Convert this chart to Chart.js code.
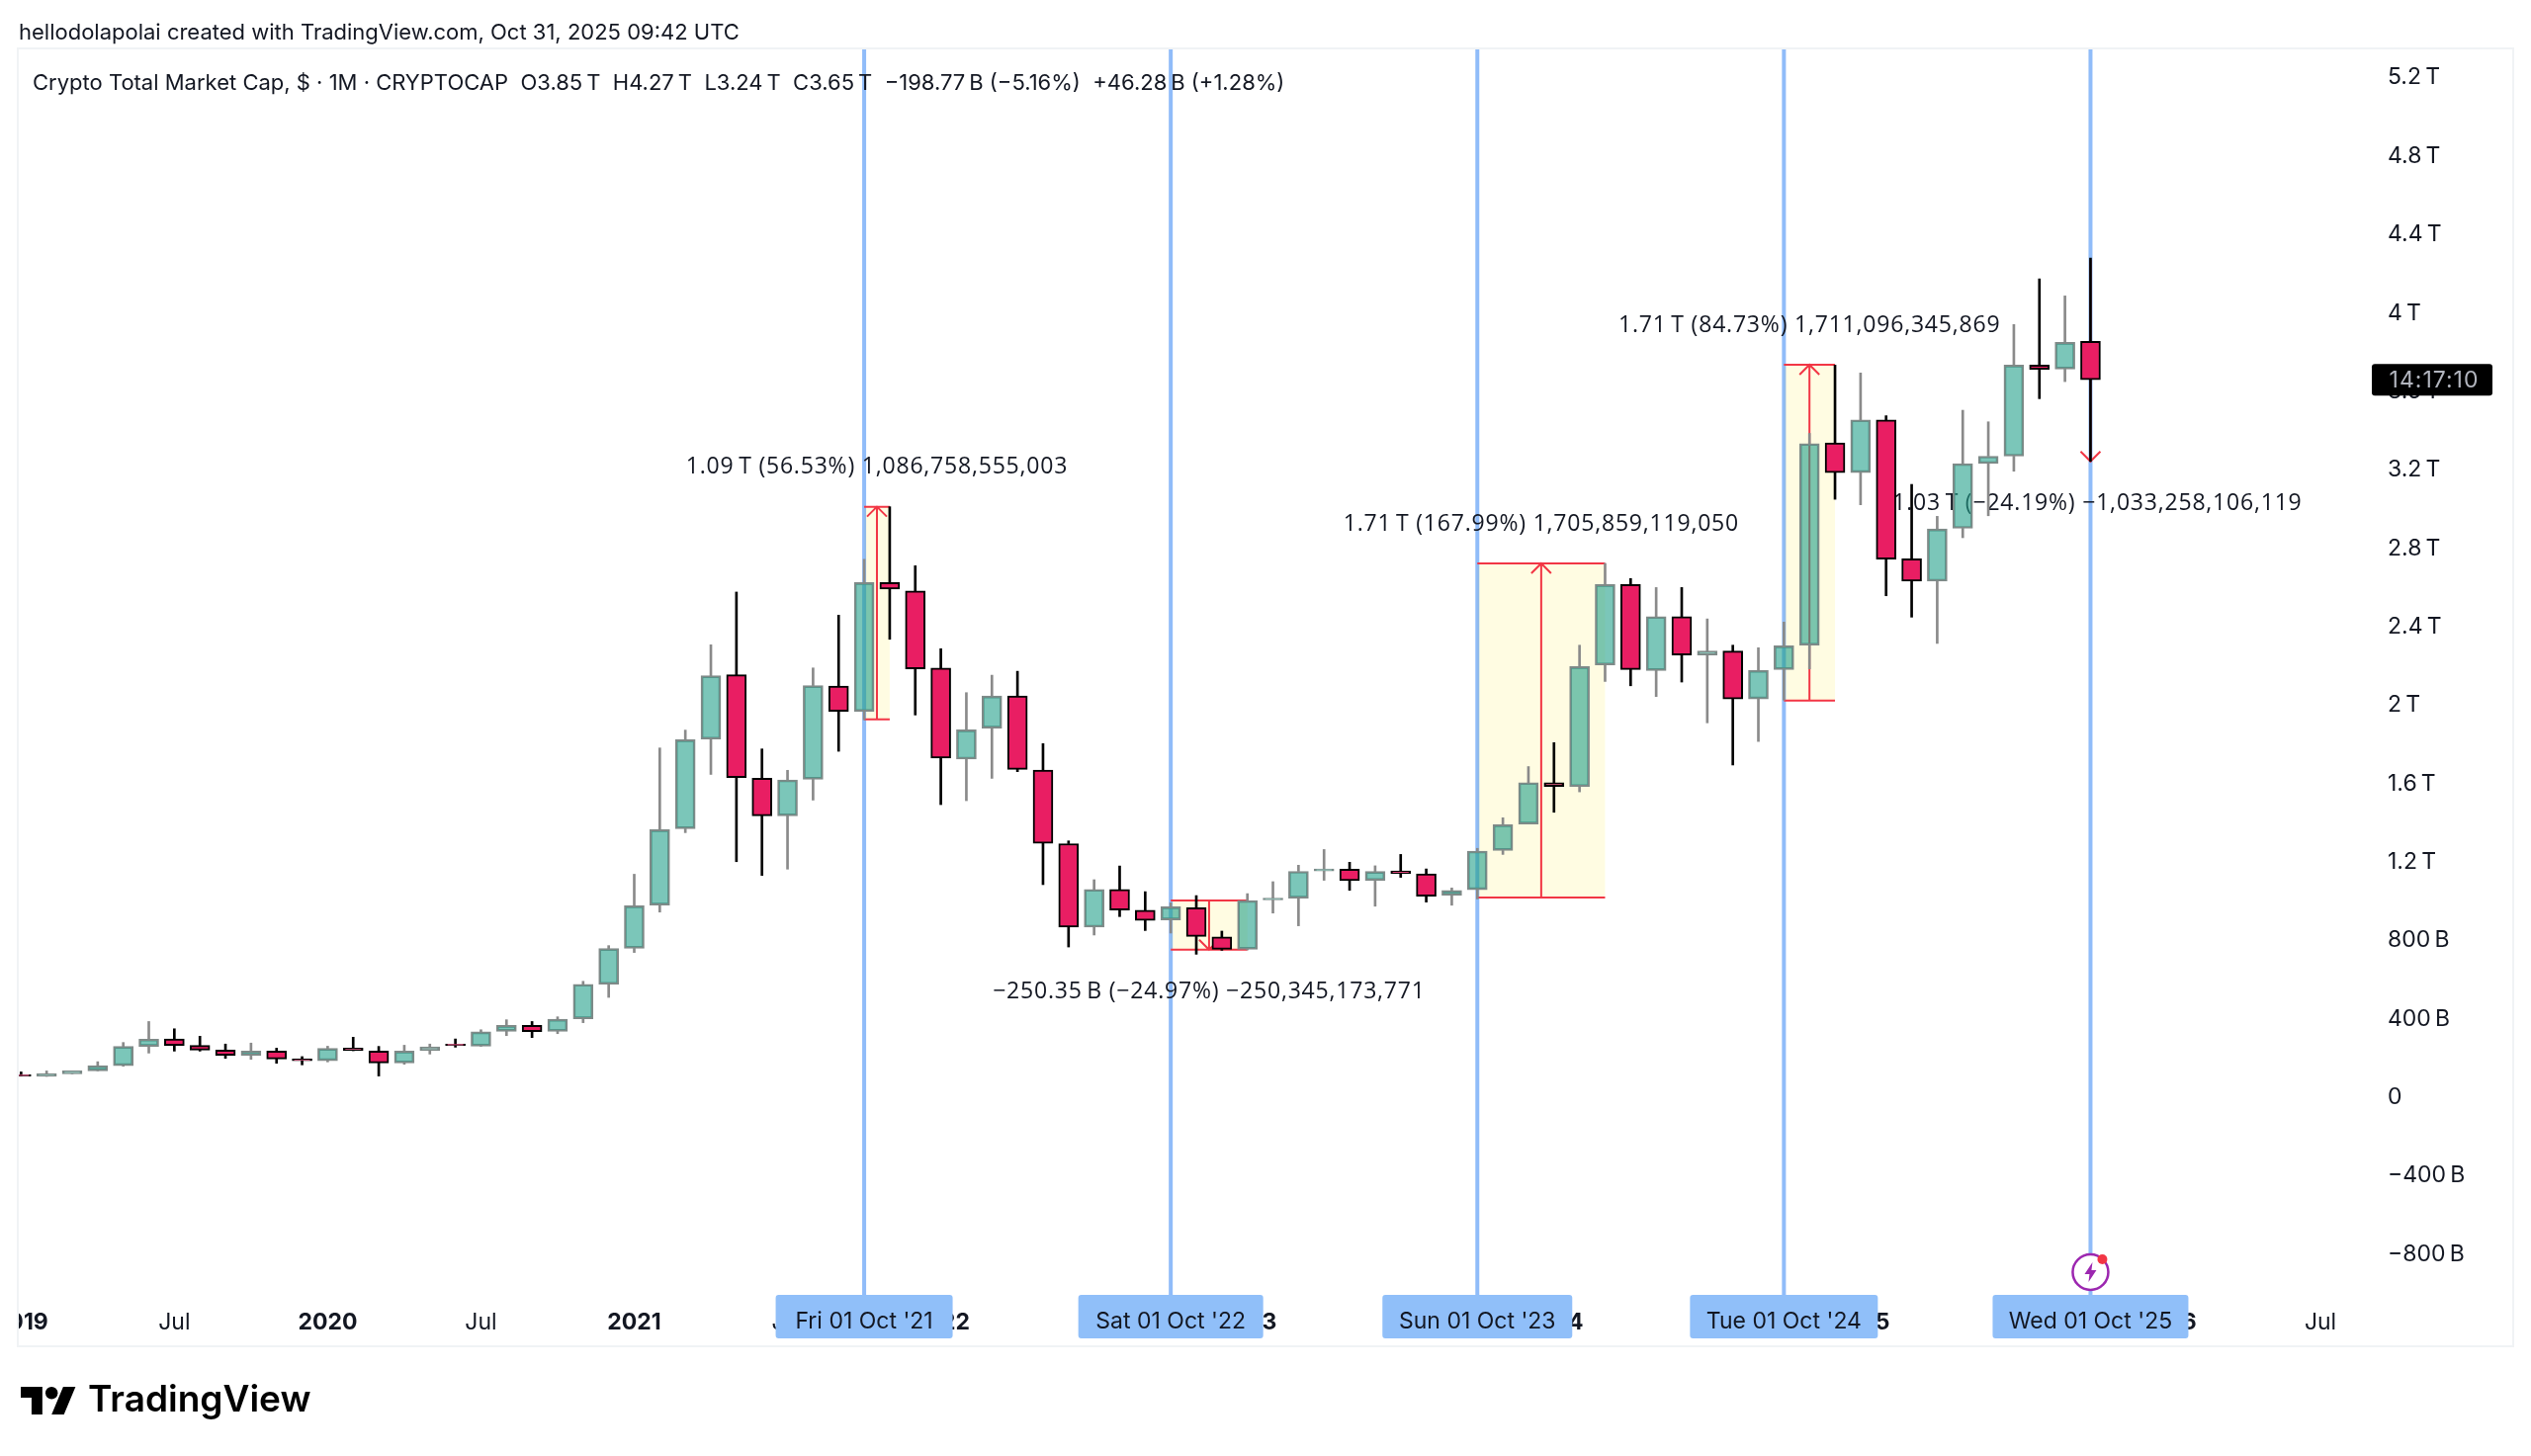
<!DOCTYPE html>
<html>
<head>
<meta charset="utf-8">
<title>Crypto Total Market Cap</title>
<script src="https://cdn.jsdelivr.net/npm/chart.js@4/dist/chart.umd.min.js"></script>
<style>
html, body { margin: 0; padding: 0; background: #fff; }
canvas { display: block; }
</style>
</head>
<body>
<canvas id="myChart" width="2560" height="1473"></canvas>
<script>
// monthly candles, Jan 2019 to Oct 2025, in trillions
const opens = [.117,.107,.120,.135,.162,.260,.298,.265,.241,.214,.236,.196,.187,.251,.236,.176,.238,.272,.261,.337,.367,.337,.401,.577,
  .760,.981,1.370,1.827,2.155,1.627,1.436,1.622,2.098,1.968,2.625,2.583,2.190,1.725,1.883,2.047,1.669,1.294,.868,1.061,.954,.905,.967,.818,
  .755,1.007,1.016,1.155,1.164,1.106,1.155,1.140,1.031,1.059,1.259,1.394,1.605,1.585,2.205,2.615,2.177,2.452,2.256,2.276,2.032,2.182,
  2.306,3.338,3.186,3.455,2.746,2.632,2.902,3.232,3.270,3.734,3.714,3.855];
const highs = [.130,.135,.135,.182,.280,.387,.350,.312,.272,.277,.251,.208,.261,.307,.260,.266,.272,.298,.345,.396,.387,.411,.592,.774,
  1.138,1.782,1.873,2.308,2.577,1.777,1.668,2.190,2.459,2.744,3.012,2.711,2.288,2.064,2.153,2.173,1.804,1.308,1.110,1.180,1.049,.992,1.029,.848,
  1.039,1.100,1.184,1.264,1.199,1.181,1.239,1.165,1.068,1.270,1.426,1.687,1.809,2.306,2.723,2.646,2.600,2.600,2.440,2.306,2.293,2.424,
  3.386,3.734,3.694,3.476,3.126,2.963,3.504,3.445,3.941,4.174,4.087,4.280];
const lows = [.109,.107,.120,.135,.159,.226,.236,.236,.199,.194,.174,.166,.181,.238,.109,.169,.221,.256,.260,.315,.305,.325,.381,.510,
  .739,.945,1.350,1.647,1.202,1.132,1.164,1.516,1.765,1.925,2.336,1.950,1.493,1.513,1.627,1.661,1.085,.767,.828,.922,.851,.838,.730,.750,
  .752,.940,.875,1.107,1.056,.975,1.122,.996,.980,1.012,1.239,1.394,1.454,1.558,2.121,2.099,2.044,2.118,1.910,1.695,1.815,2.026,
  2.185,3.050,3.022,2.558,2.449,2.315,2.854,2.966,3.193,3.563,3.650,3.243];
const closes = [.109,.122,.135,.162,.260,.297,.265,.241,.214,.236,.196,.187,.250,.238,.176,.236,.258,.265,.334,.367,.335,.399,.577,.759,
  .977,1.365,1.824,2.150,1.631,1.436,1.619,2.100,1.968,2.625,2.592,2.185,1.730,1.874,2.047,1.673,1.295,.868,1.061,.955,.903,.972,.821,.755,
  1.004,1.016,1.153,1.165,1.105,1.152,1.142,1.026,1.056,1.256,1.390,1.605,1.585,2.197,2.615,2.182,2.452,2.256,2.276,2.032,2.178,2.303,
  3.334,3.186,3.455,2.745,2.632,2.899,3.232,3.270,3.734,3.712,3.850,3.659];

const priceTicks = [5.2,4.8,4.4,4,3.6,3.2,2.8,2.4,2,1.6,1.2,.8,.4,0,-.4,-.8];
const priceLabels = ['5.2\u2009T','4.8\u2009T','4.4\u2009T','4\u2009T','3.6\u2009T','3.2\u2009T','2.8\u2009T','2.4\u2009T','2\u2009T','1.6\u2009T','1.2\u2009T','800\u2009B','400\u2009B','0','\u2212400\u2009B','\u2212800\u2009B'];
const timeTicks = [0,6,12,18,24,30,36,42,48,54,60,66,72,78,84,90];
const timeLabels = ['2019','Jul','2020','Jul','2021','Jul','2022','Jul','2023','Jul','2024','Jul','2025','Jul','2026','Jul'];

// the five date markers and the price range drawn from each
const markerMonths = [33,45,57,69,81];
const markerDates = ["Fri 01 Oct '21","Sat 01 Oct '22","Sun 01 Oct '23","Tue 01 Oct '24","Wed 01 Oct '25"];
const rangeEnds = [34,48,62,71,81];
const rangeFrom = [1.928,1.004,1.019,2.024,4.27];
const rangeTo = [3.012,.7535,2.723,3.736,3.243];
const rangeTexts = [
  '1.09\u2009T (56.53%) 1,086,758,555,003',
  '\u2212250.35\u2009B (\u221224.97%) \u2212250,345,173,771',
  '1.71\u2009T (167.99%) 1,705,859,119,050',
  '1.71\u2009T (84.73%) 1,711,096,345,869',
  '\u22121.03\u2009T (\u221224.19%) \u22121,033,258,106,119'
];

const FONT = 'Inter, "Liberation Sans", sans-serif';
const TEXT = '#131722';
const BLUE_LINE = 'rgba(33,122,244,0.5)';
const BADGE = '#90bff9';
const RED = '#f23645';

const upFill = 'rgba(35,160,138,0.6)';
const upEdge = '#7f8a88';
const upWick = '#8a8a8a';
const downFill = '#E91E63';
const downEdge = '#000000';
const downWick = '#000000';

const isUp = closes.map((c, i) => c >= opens[i]);
const bodies = opens.map((o, i) => ({ x: i, y: [o, closes[i]] }));
const upperWicks = highs.map((h, i) => ({ x: i, y: [Math.max(opens[i], closes[i]), h] }));
const lowerWicks = lows.map((l, i) => ({ x: i, y: [l, Math.min(opens[i], closes[i])] }));
const wickColors = isUp.map(u => u ? upWick : downWick);

function drawUnderCandles(chart) {
  const { ctx, chartArea, scales } = chart;
  const x = scales.x, y = scales.y;
  ctx.save();

  markerMonths.forEach((m, i) => {
    const left = x.getPixelForValue(m);
    const right = x.getPixelForValue(rangeEnds[i]);
    const yFrom = y.getPixelForValue(rangeFrom[i]);
    const yTo = y.getPixelForValue(rangeTo[i]);
    const top = Math.min(yFrom, yTo), bottom = Math.max(yFrom, yTo);
    const mid = (left + right) / 2;

    ctx.fillStyle = 'rgba(255,235,59,0.15)';
    ctx.fillRect(left, top, right - left, bottom - top);

    ctx.strokeStyle = BLUE_LINE;
    ctx.lineWidth = 4;
    ctx.beginPath();
    ctx.moveTo(left, chartArea.top);
    ctx.lineTo(left, chartArea.bottom);
    ctx.stroke();

    ctx.strokeStyle = RED;
    ctx.lineWidth = 2;
    ctx.beginPath();
    if (right > left) {
      ctx.moveTo(left, top); ctx.lineTo(right, top);
      ctx.moveTo(left, bottom); ctx.lineTo(right, bottom);
    }
    ctx.moveTo(mid, yFrom); ctx.lineTo(mid, yTo);
    const dir = yTo < yFrom ? 1 : -1;
    ctx.moveTo(mid - 10, yTo + dir * 10); ctx.lineTo(mid, yTo); ctx.lineTo(mid + 10, yTo + dir * 10);
    ctx.stroke();

    ctx.fillStyle = TEXT;
    ctx.font = '23px "Open Sans", ' + FONT;
    ctx.letterSpacing = '0.8px';
    ctx.textAlign = 'center';
    ctx.textBaseline = 'middle';
    ctx.fillText(rangeTexts[i], mid, yTo < yFrom ? top - 40 : bottom + 43);
    ctx.letterSpacing = '0px';
  });
  ctx.restore();
}

function drawOnTop(chart) {
  const { ctx, chartArea, scales } = chart;
  const x = scales.x, y = scales.y;
  ctx.save();

  // hides what sticks out left of the pane, like the first year label
  ctx.fillStyle = '#fff';
  ctx.fillRect(0, chartArea.top, chartArea.left, 1362 - chartArea.top);

  ctx.strokeStyle = '#f0f3f5';
  ctx.lineWidth = 2;
  ctx.strokeRect(chartArea.left, chartArea.top, 2542 - chartArea.left, 1362 - chartArea.top);

  ctx.textBaseline = 'middle';
  ctx.textAlign = 'left';
  ctx.fillStyle = TEXT;
  ctx.font = '22px ' + FONT;
  ctx.fillText('hellodolapolai created with TradingView.com, Oct 31, 2025 09:42 UTC', 19, 33);
  ctx.fillText('Crypto Total Market Cap, $ \u00b7 1M \u00b7 CRYPTOCAP  O3.85\u2009T  H4.27\u2009T  L3.24\u2009T  C3.65\u2009T  \u2212198.77\u2009B (\u22125.16%)  +46.28\u2009B (+1.28%)', 33, 84);

  // date badges on the time axis
  ctx.font = '23px ' + FONT;
  ctx.textAlign = 'center';
  markerMonths.forEach((m, i) => {
    const cx = x.getPixelForValue(m);
    const w = [179, 187, 192, 190, 198][i];
    ctx.fillStyle = BADGE;
    ctx.beginPath();
    ctx.roundRect(cx - w / 2, chartArea.bottom, w, 44, 3);
    ctx.fill();
    ctx.fillStyle = TEXT;
    ctx.fillText(markerDates[i], cx, 1337);
  });

  // countdown on the price axis
  const closeY = y.getPixelForValue(closes[closes.length - 1]);
  ctx.fillStyle = '#000';
  ctx.beginPath();
  ctx.roundRect(2399, closeY - 16, 122, 32, 3);
  ctx.fill();
  ctx.fillStyle = '#b2b5be';
  ctx.letterSpacing = '1px';
  ctx.fillText('14:17:10', 2462, closeY + 1);
  ctx.letterSpacing = '0px';

  // bolt icon on the last marker
  const ix = x.getPixelForValue(markerMonths[markerMonths.length - 1]);
  const iy = 1287;
  ctx.fillStyle = '#fff';
  ctx.strokeStyle = '#9c27b0';
  ctx.lineWidth = 2.5;
  ctx.beginPath();
  ctx.arc(ix, iy, 18, 0, Math.PI * 2);
  ctx.fill();
  ctx.stroke();
  ctx.fillStyle = '#9c27b0';
  ctx.beginPath();
  ctx.moveTo(ix + 2, iy - 10); ctx.lineTo(ix - 6, iy + 2); ctx.lineTo(ix - 1, iy + 2);
  ctx.lineTo(ix - 2, iy + 10); ctx.lineTo(ix + 6, iy - 2); ctx.lineTo(ix + 1, iy - 2);
  ctx.closePath();
  ctx.fill();
  ctx.fillStyle = RED;
  ctx.beginPath();
  ctx.arc(ix + 12, iy - 13, 5, 0, Math.PI * 2);
  ctx.fill();

  // TradingView logo
  ctx.save();
  ctx.translate(21, 1396.8);
  ctx.scale(1.56, 1.56);
  ctx.fillStyle = '#000';
  ctx.fill(new Path2D('M14 22H7V11H0V4h14v18zM28 22h-8l7.5-18h8L28 22z'));
  ctx.beginPath();
  ctx.arc(20, 8, 4, 0, Math.PI * 2);
  ctx.fill();
  ctx.restore();
  ctx.fillStyle = '#000';
  ctx.textAlign = 'left';
  ctx.font = '600 37px ' + FONT;
  ctx.fillText('TradingView', 89, 1417);

  ctx.restore();
}

new Chart('myChart', {
  type: 'bar',
  data: {
    datasets: [
      { data: bodies, backgroundColor: isUp.map(u => u ? upFill : downFill), borderColor: isUp.map(u => u ? upEdge : downEdge),
        borderWidth: 2, borderSkipped: false, barPercentage: 1, categoryPercentage: 1, maxBarThickness: 20 },
      { data: upperWicks, backgroundColor: wickColors, barPercentage: 1, categoryPercentage: 1, maxBarThickness: 2 },
      { data: lowerWicks, backgroundColor: wickColors, barPercentage: 1, categoryPercentage: 1, maxBarThickness: 2 }
    ]
  },
  options: {
    responsive: false,
    animation: false,
    grouped: false,
    events: [],
    layout: { padding: { left: 18, top: 49, right: 18, bottom: 111 } },
    plugins: { legend: { display: false }, tooltip: { enabled: false }, title: { display: false } },
    scales: {
      x: {
        type: 'linear',
        offset: false,
        bounds: 'data',
        min: -0.128,
        max: 92.05,
        grid: { display: false, offset: false },
        border: { display: false },
        afterBuildTicks: s => { s.ticks = timeTicks.map(v => ({ value: v })); },
        afterFit: s => { s.height = 52; s.paddingLeft = 0; s.paddingRight = 0; },
        ticks: {
          autoSkip: false,
          maxRotation: 0,
          padding: 6,
          color: TEXT,
          font: c => ({ family: FONT, size: 23, weight: timeLabels[c.index] === 'Jul' ? '400' : '700' }),
          callback: (v, i) => timeLabels[i]
        }
      },
      y: {
        type: 'linear',
        position: 'right',
        bounds: 'data',
        min: -1.007,
        max: 5.349,
        grid: { display: false },
        border: { display: false },
        afterBuildTicks: s => { s.ticks = priceTicks.map(v => ({ value: v })); },
        afterFit: s => { s.width = 142; s.paddingTop = 0; s.paddingBottom = 0; },
        ticks: {
          padding: 7,
          color: TEXT,
          font: { family: FONT, size: 23 },
          callback: (v, i) => priceLabels[i]
        }
      }
    }
  },
  plugins: [{ id: 'overlays', beforeDatasetsDraw: drawUnderCandles, afterDraw: drawOnTop }]
});
</script>
</body>
</html>
